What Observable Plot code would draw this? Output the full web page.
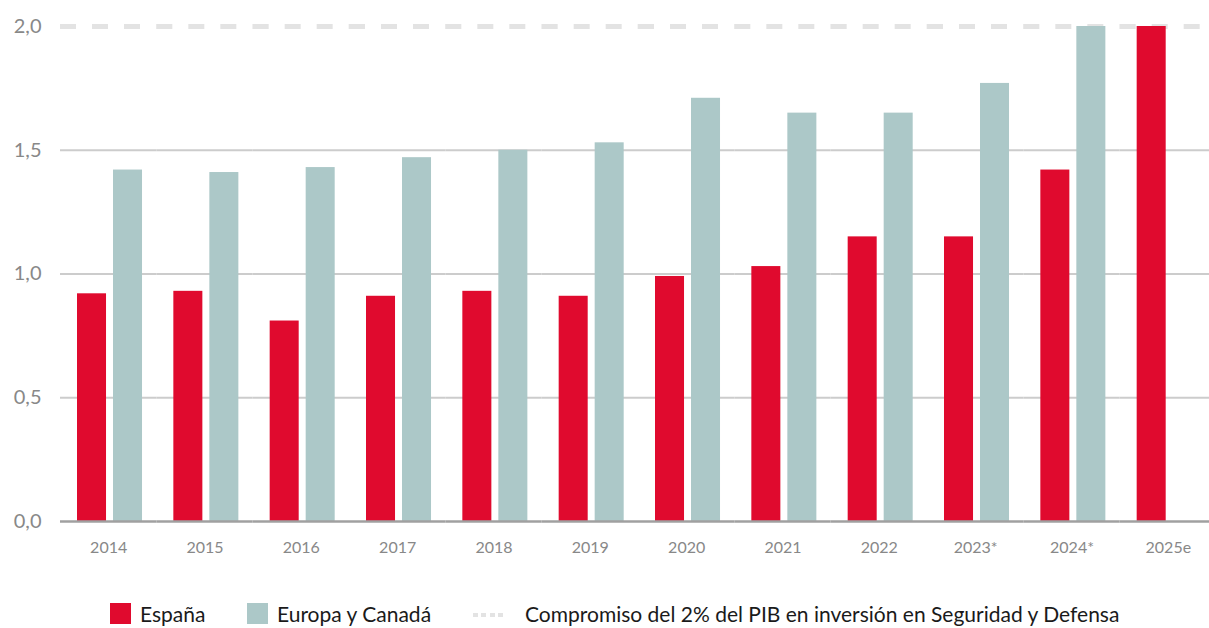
<!DOCTYPE html>
<html>
<head>
<meta charset="utf-8">
<script src="https://cdn.jsdelivr.net/npm/d3@7"></script>
<script src="https://cdn.jsdelivr.net/npm/@observablehq/plot@0.6"></script>
<style>
  body { margin: 0; background: #fff; font-family: Lato, "Open Sans", sans-serif; position: relative; width: 1209px; height: 628px; overflow: hidden; }
  #chart { width: 1209px; }
  .legend { position: absolute; left: 0; top: 0; width: 1209px; height: 628px; font-size: 21px; color: #1a1a1a; line-height: 1.2; }
  .legend .sw { position: absolute; top: 603px; width: 21px; height: 21px; }
  .legend .lbl { position: absolute; top: 601px; white-space: nowrap; }
  .legend .dots { position: absolute; top: 613px; width: 30px; height: 4px; background: repeating-linear-gradient(to right, #e3e3e3 0 5px, transparent 5px 8.5px); }
</style>
</head>
<body>
<div id="chart"></div>
<div class="legend">
  <div class="sw" style="left:110px;background:#e00a2e"></div><span class="lbl" style="left:140px">España</span>
  <div class="sw" style="left:247px;background:#acc8c8"></div><span class="lbl" style="left:277px">Europa y Canadá</span>
  <div class="dots" style="left:473px"></div><span class="lbl" style="left:525px">Compromiso del 2% del PIB en inversión en Seguridad y Defensa</span>
</div>
<script>
const years = ["2014","2015","2016","2017","2018","2019","2020","2021","2022","2023*","2024*","2025e"];
const series = ["España", "Europa y Canadá"];
const espana = [0.92, 0.93, 0.81, 0.91, 0.93, 0.91, 0.99, 1.03, 1.15, 1.15, 1.42, 2.0];
const europa = [1.42, 1.41, 1.43, 1.47, 1.50, 1.53, 1.71, 1.65, 1.65, 1.77, 2.0, null];
const yTicks = [0, 0.5, 1.0, 1.5, 2.0];
const gridTicks = [0.5, 1.0, 1.5];
const target = 2.0;
const colors = ["#e00a2e", "#acc8c8"];

const rows = [];
years.forEach((y, i) => {
  rows.push({year: y, serie: series[0], value: espana[i]});
  if (europa[i] != null) rows.push({year: y, serie: series[1], value: europa[i]});
});

const fmt = d => d3.format(".1f")(d).replace(".", ",");

const chart = Plot.plot({
  width: 1209,
  height: 570,
  marginLeft: 60,
  marginRight: -7,
  marginTop: 26,
  marginBottom: 49,
  style: { fontFamily: "Lato, 'Open Sans', sans-serif", background: "#fff" },
  fx: { domain: years, padding: 0, round: false, label: null },
  x: { domain: series, paddingInner: 0.194, paddingOuter: 0.435, align: 0.543, round: false, axis: null },
  y: { domain: [0, 2], label: null },
  color: { domain: series, range: colors },
  marks: [
    Plot.ruleY(gridTicks, { stroke: "#cccccc", strokeWidth: 2 }),
    Plot.ruleY([target], { stroke: "#e3e3e3", strokeWidth: 5, strokeDasharray: "16,16" }),
    Plot.barY(rows, { fx: "year", x: "serie", y: "value", fill: "serie" }),
    Plot.ruleY([0], { stroke: "#a0a0a0", strokeWidth: 2.5 }),
    Plot.axisY(yTicks, { tickSize: 0, tickPadding: 19, tickFormat: fmt, fontSize: 20, color: "#888", label: null }),
    Plot.axisFx({ anchor: "bottom", tickSize: 0, tickPadding: 20, fontSize: 16, color: "#888", label: null })
  ]
});
document.getElementById("chart").appendChild(chart);
</script>
</body>
</html>
